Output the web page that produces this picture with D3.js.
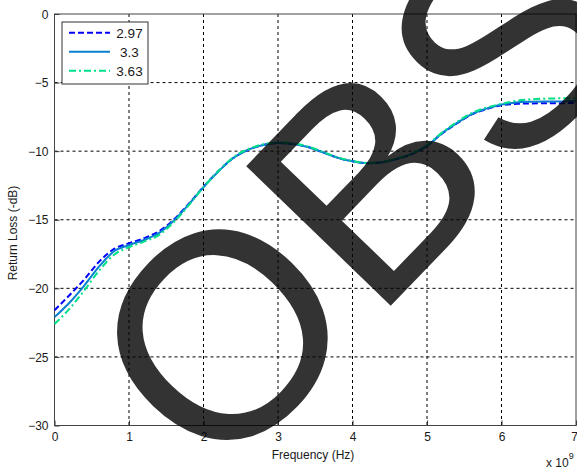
<!DOCTYPE html>
<html>
<head>
<meta charset="utf-8">
<script src="https://cdn.jsdelivr.net/npm/d3@7"></script>
<style>
  html, body { margin: 0; padding: 0; background: #fff; }
  svg { display: block; }
  text { font-family: "Liberation Sans", Arial, sans-serif; fill: #1a1a1a; }
</style>
</head>
<body>
<svg id="chart" width="577" height="470"></svg>
<script>
// Frequency in units of 1e9 Hz
const freq = [0, 0.2, 0.4, 0.6, 0.8, 1.0, 1.2, 1.4, 1.6, 1.8, 2.0, 2.2, 2.4, 2.6, 2.8, 3.0, 3.2, 3.4, 3.6, 3.8, 4.0, 4.2, 4.4, 4.6, 4.8, 5.0, 5.2, 5.4, 5.6, 5.8, 6.0, 6.2, 6.4, 6.6, 6.8, 7.0];
const rl297 = [-21.6, -20.5, -19.35, -18.05, -17.13, -16.71, -16.35, -15.85, -15.0, -13.85, -12.6, -11.45, -10.5, -9.9, -9.55, -9.4, -9.47, -9.7, -10.08, -10.48, -10.74, -10.88, -10.8, -10.56, -10.2, -9.62, -8.72, -7.98, -7.32, -6.93, -6.65, -6.55, -6.52, -6.5, -6.5, -6.48];
const rl33  = [-22.1, -21.05, -19.8, -18.4, -17.3, -16.85, -16.48, -15.98, -15.08, -13.9, -12.62, -11.48, -10.5, -9.9, -9.55, -9.4, -9.47, -9.7, -10.08, -10.48, -10.74, -10.88, -10.8, -10.55, -10.2, -9.6, -8.7, -7.96, -7.3, -6.9, -6.6, -6.45, -6.4, -6.38, -6.37, -6.35];
const rl363 = [-22.6, -21.5, -20.15, -18.7, -17.55, -17.0, -16.6, -16.12, -15.18, -13.95, -12.62, -11.45, -10.45, -9.85, -9.5, -9.35, -9.42, -9.66, -10.05, -10.45, -10.72, -10.86, -10.78, -10.52, -10.15, -9.55, -8.65, -7.88, -7.22, -6.82, -6.55, -6.33, -6.22, -6.17, -6.15, -6.15];
const seriesNames = ["2.97", "3.3", "3.63"];
const xTicks = [0, 1, 2, 3, 4, 5, 6, 7];
const yTicks = [0, -5, -10, -15, -20, -25, -30];
const xLabel = "Frequency (Hz)";
const yLabel = "Return Loss (-dB)";
const watermark = "OBS";

const svg = d3.select("#chart");
const L = 54.5, R = 576, T = 14, B = 425.5;
const x = d3.scaleLinear().domain([0, 7]).range([L, R]);
const y = d3.scaleLinear().domain([-30, 0]).range([B, T]);

// grid
const grid = svg.append("g");
grid.selectAll("line.vg").data(xTicks.slice(1, -1)).enter().append("line")
  .attr("x1", d => x(d)).attr("x2", d => x(d)).attr("y1", T).attr("y2", B)
  .attr("stroke", "#000").attr("stroke-width", 1).attr("stroke-dasharray", "3,3");
grid.selectAll("line.hg").data(yTicks.slice(1, -1)).enter().append("line")
  .attr("y1", d => y(d)).attr("y2", d => y(d)).attr("x1", L).attr("x2", R)
  .attr("stroke", "#000").attr("stroke-width", 1).attr("stroke-dasharray", "3,3");

// axes (tick labels via d3 axes)
const xAxis = svg.append("g").attr("transform", `translate(0,${B})`)
  .call(d3.axisBottom(x).tickValues(xTicks).tickFormat(d3.format("d")).tickSize(-5).tickPadding(7));
const yAxis = svg.append("g").attr("transform", `translate(${L},0)`)
  .call(d3.axisLeft(y).tickValues(yTicks).tickFormat(d3.format("d")).tickSize(-5).tickPadding(6));
[xAxis, yAxis].forEach(a => {
  a.select(".domain").remove();
  a.selectAll(".tick line").attr("stroke", "#333");
  a.selectAll(".tick text").attr("font-size", 12).attr("fill", "#1a1a1a")
    .style("font-family", '"Liberation Sans", Arial, sans-serif');
});
yAxis.selectAll(".tick text").attr("dy", "0.35em");
// last x label sits at the window edge: keep it inside
xAxis.selectAll(".tick text").filter(d => d === 7).attr("text-anchor", "end").attr("x", 1.5);

// frame
svg.append("rect").attr("x", L).attr("y", T).attr("width", R - L).attr("height", B - T)
  .attr("fill", "none").attr("stroke", "#444").attr("stroke-width", 1);

// series
const series = [
  { name: seriesNames[0], values: rl297, color: "#0000ff", dash: "6,3" },
  { name: seriesNames[1], values: rl33,  color: "#0a7fd0", dash: null },
  { name: seriesNames[2], values: rl363, color: "#00e08a", dash: "7,3,2,3" }
];
const line = d3.line().x((d, i) => x(freq[i])).y(d => y(d)).curve(d3.curveMonotoneX);
svg.append("g").selectAll("path").data(series).enter().append("path")
  .attr("d", s => line(s.values))
  .attr("fill", "none").attr("stroke", s => s.color).attr("stroke-width", 2)
  .attr("stroke-dasharray", s => s.dash);

// legend
const lg = svg.append("g");
lg.append("rect").attr("x", 62).attr("y", 22).attr("width", 86).attr("height", 62)
  .attr("fill", "#fff").attr("stroke", "#333").attr("stroke-width", 1);
series.forEach((s, i) => {
  const yy = 32.7 + i * 19;
  lg.append("line").attr("x1", 69).attr("x2", 110).attr("y1", yy).attr("y2", yy)
    .attr("stroke", s.color).attr("stroke-width", 2).attr("stroke-dasharray", s.dash);
  lg.append("text").attr("x", 129.5).attr("y", yy).attr("dy", "0.36em")
    .attr("text-anchor", "middle").attr("font-size", 13.5).text(s.name);
});

// axis labels
svg.append("text").attr("x", 313).attr("y", 455).attr("dy", "0.35em")
  .attr("text-anchor", "middle").attr("font-size", 12).text(xLabel);
svg.append("text").attr("transform", `translate(13,233) rotate(-90)`)
  .attr("dy", "0.35em").attr("text-anchor", "middle").attr("font-size", 12).text(yLabel);
const ex = svg.append("text").attr("x", 546).attr("y", 466.5).attr("font-size", 12);
ex.append("tspan").text("x 10");
ex.append("tspan").attr("dy", -8).attr("font-size", 9).text("9");

// watermark overlay
svg.append("text").attr("transform", "translate(216.3,486.3) rotate(-46)")
  .attr("font-size", 292).style("fill", "#000").attr("fill-opacity", 0.8)
  .text(watermark);
</script>
</body>
</html>
